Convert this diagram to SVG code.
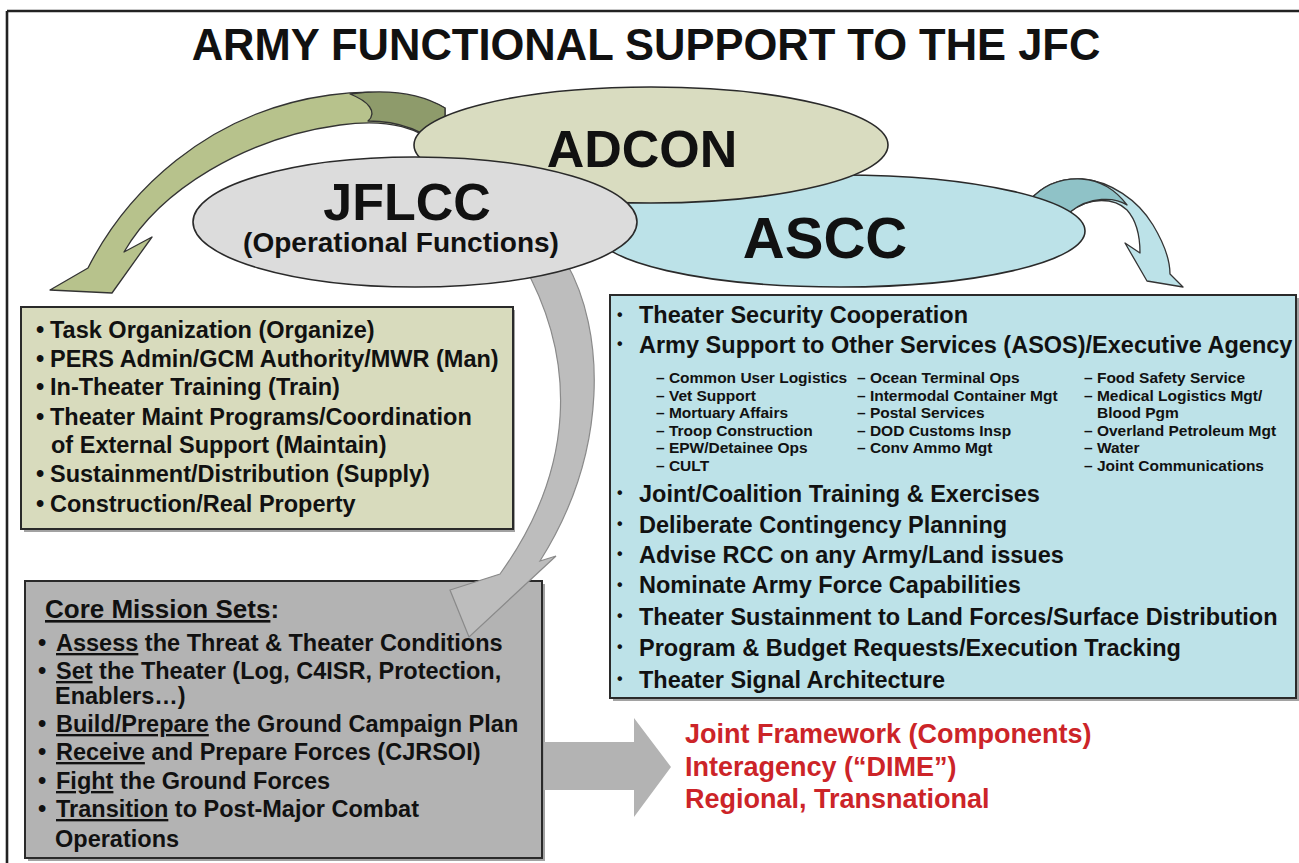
<svg xmlns="http://www.w3.org/2000/svg" width="1299" height="863" viewBox="0 0 1299 863">
<style>
.t{font-family:"Liberation Sans",Arial,Helvetica,sans-serif;font-weight:bold;fill:#111}
.ob{font-size:23.5px}
.bb{font-size:23.5px}
.sub{font-size:15.5px}
.cm{font-size:23.5px}
.red{font-size:27px;fill:#cc2428}
.bul{font-size:16px}
.u{text-decoration:underline}
.shadow{fill:#555;opacity:0.55}
.box{stroke:#2a2a2a;stroke-width:2}
.ell{stroke:#2a2a2a;stroke-width:1.6}
.arr{stroke:#333;stroke-width:1.3;stroke-linejoin:round}
</style>
<rect width="1299" height="863" fill="#ffffff"/>
<g id="frame" stroke="#222" stroke-width="2.6" fill="none">
<line x1="7" y1="11" x2="1299" y2="11"/>
<line x1="7" y1="11" x2="7" y2="863"/>
</g>
<g id="title">
<text class="t" x="646" y="60" font-size="43.5" text-anchor="middle">ARMY FUNCTIONAL SUPPORT TO THE JFC</text>
</g>
<g id="core-missions">
<rect class="shadow" x="28" y="584" width="517" height="277"/>
<rect class="box" x="25" y="581" width="517" height="277" fill="#b3b3b3"/>
<text class="t" x="45" y="618" font-size="26"><tspan class="u">Core Mission Sets</tspan>:</text>
<g class="t cm">
<text x="38" y="651">•</text><text x="56" y="651"><tspan class="u">Assess</tspan> the Threat &amp; Theater Conditions</text>
<text x="38" y="679">•</text><text x="56" y="679"><tspan class="u">Set</tspan> the Theater (Log, C4ISR, Protection,</text>
<text x="55" y="704">Enablers…)</text>
<text x="38" y="732">•</text><text x="56" y="732"><tspan class="u">Build/Prepare</tspan> the Ground Campaign Plan</text>
<text x="38" y="760">•</text><text x="56" y="760"><tspan class="u">Receive</tspan> and Prepare Forces (CJRSOI)</text>
<text x="38" y="789">•</text><text x="56" y="789"><tspan class="u">Fight</tspan> the Ground Forces</text>
<text x="38" y="817">•</text><text x="56" y="817"><tspan class="u">Transition</tspan> to Post-Major Combat</text>
<text x="55" y="847">Operations</text>
</g>
</g>
<g id="connectors">
<path id="arrow-to-framework" d="M544,742 L634,742 L634,718 L671,767 L634,817 L634,790 L544,790 Z" fill="#b3b3b3"/>
<path id="arrow-jflcc-core" d="M522,262 L566,262 C605,330 610,450 540,561 L556,556 L469,637 L450,590 L500,574 C575,470 578,360 522,262 Z" fill="#bdbdbd" stroke="#8a8a8a" stroke-width="1.2"/>
<g id="arrow-adcon-olive">
<path class="arr" d="M445,108 C420,95 380,88 330,95 C205,112 125,195 88,268 L50,290 L112,293 L152,237 L124,252 C160,190 245,138 340,125 C390,118 420,128 445,150 Z" fill="#b7c28c"/>
<path class="arr" d="M350,94 C395,88 425,96 445,108 L445,150 C425,131 400,121 368,121 C378,112 368,101 350,94 Z" fill="#8e9b6b"/>
</g>
<g id="arrow-ascc-blue">
<path class="arr" d="M1030,200 C1045,183 1062,178 1082,179 C1110,181 1138,200 1153,225 C1165,245 1170,262 1170,274 L1183,287 L1147,281 L1125,243 L1140,253 C1140,236 1136,220 1127,210 C1115,198 1090,196 1070,212 Z" fill="#bce2e8"/>
<path class="arr" d="M1030,200 C1045,183 1062,178 1082,179 C1100,180 1116,190 1127,205 C1115,197 1090,196 1070,212 Z" fill="#8fc2c7"/>
</g>
</g>
<g id="olive-box">
<rect class="shadow" x="24" y="310" width="491" height="222"/>
<rect class="box" x="21" y="307" width="492" height="222" fill="#d8dbbd"/>
<g class="t ob">
<text x="36" y="338">•</text><text x="50" y="338">Task Organization (Organize)</text>
<text x="36" y="367">•</text><text x="50" y="367">PERS Admin/GCM Authority/MWR (Man)</text>
<text x="36" y="395">•</text><text x="50" y="395">In-Theater Training (Train)</text>
<text x="36" y="425">•</text><text x="50" y="425">Theater Maint Programs/Coordination</text>
<text x="51" y="453">of External Support (Maintain)</text>
<text x="36" y="482">•</text><text x="50" y="482">Sustainment/Distribution (Supply)</text>
<text x="36" y="512">•</text><text x="50" y="512">Construction/Real Property</text>
</g>
</g>
<g id="blue-box">
<rect class="shadow" x="613" y="298" width="686" height="403"/>
<rect class="box" x="610" y="295" width="686" height="403" fill="#bde2e8"/>
<g class="t bul">
<text x="617" y="320">•</text><text x="617" y="349">•</text><text x="617" y="498">•</text><text x="617" y="529">•</text><text x="617" y="559">•</text><text x="617" y="590">•</text><text x="617" y="621">•</text><text x="617" y="652">•</text><text x="617" y="684">•</text>
</g>
<g class="t bb">
<text x="639" y="323">Theater Security Cooperation</text>
<text x="639" y="353">Army Support to Other Services (ASOS)/Executive Agency</text>
<text x="639" y="502">Joint/Coalition Training &amp; Exercises</text>
<text x="639" y="533">Deliberate Contingency Planning</text>
<text x="639" y="563">Advise RCC on any Army/Land issues</text>
<text x="639" y="593">Nominate Army Force Capabilities</text>
<text x="639" y="625">Theater Sustainment to Land Forces/Surface Distribution</text>
<text x="639" y="656">Program &amp; Budget Requests/Execution Tracking</text>
<text x="639" y="688">Theater Signal Architecture</text>
</g>
<g class="t sub">
<text x="656" y="383">– Common User Logistics</text>
<text x="656" y="400.5">– Vet Support</text>
<text x="656" y="418">– Mortuary Affairs</text>
<text x="656" y="435.5">– Troop Construction</text>
<text x="656" y="453">– EPW/Detainee Ops</text>
<text x="656" y="470.5">– CULT</text>
<text x="857" y="383">– Ocean Terminal Ops</text>
<text x="857" y="400.5">– Intermodal Container Mgt</text>
<text x="857" y="418">– Postal Services</text>
<text x="857" y="435.5">– DOD Customs Insp</text>
<text x="857" y="453">– Conv Ammo Mgt</text>
<text x="1084" y="383">– Food Safety Service</text>
<text x="1084" y="400.5">– Medical Logistics Mgt/</text>
<text x="1097" y="418">Blood Pgm</text>
<text x="1084" y="435.5">– Overland Petroleum Mgt</text>
<text x="1084" y="453">– Water</text>
<text x="1084" y="470.5">– Joint Communications</text>
</g>
</g>
<g id="ascc">
<ellipse class="ell" cx="840" cy="231" rx="245" ry="56" fill="#bce2e8"/>
<text class="t" x="825" y="258" font-size="58" text-anchor="middle">ASCC</text>
</g>
<g id="adcon">
<ellipse class="ell" cx="651" cy="145" rx="237" ry="58" fill="#d9dcc0"/>
<text class="t" x="642" y="167" font-size="52" text-anchor="middle">ADCON</text>
</g>
<g id="jflcc">
<ellipse class="ell" cx="415" cy="222" rx="222" ry="65" fill="#dcdcdc"/>
<text class="t" x="407" y="220" font-size="52" text-anchor="middle">JFLCC</text>
<text class="t" x="401" y="252" font-size="28" text-anchor="middle">(Operational Functions)</text>
</g>
<g id="framework-text" class="t red">
<text x="685" y="743">Joint Framework (Components)</text>
<text x="685" y="776">Interagency (“DIME”)</text>
<text x="685" y="808">Regional, Transnational</text>
</g>
</svg>
